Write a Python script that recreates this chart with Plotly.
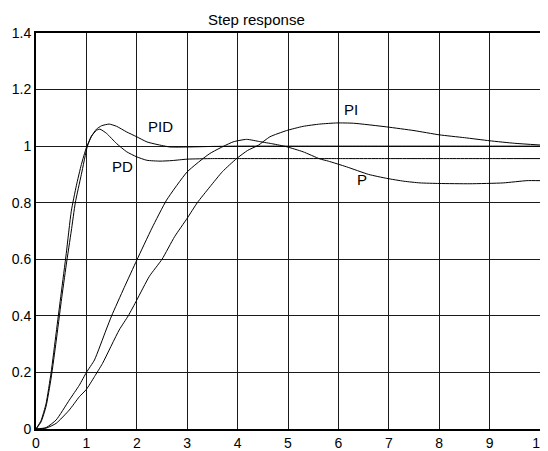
import plotly.graph_objects as go

# Time samples and responses
t_pd = [0, 0.1, 0.2, 0.3, 0.4, 0.5, 0.6, 0.7, 0.8, 0.9, 1.0, 1.1, 1.2, 1.27, 1.4, 1.6, 1.8, 2.0, 2.2, 2.46, 2.7, 3.0, 3.5, 4, 5, 6, 7, 8, 9, 10]
y_pd = [0, 0.03, 0.09, 0.2, 0.34, 0.48, 0.62, 0.77, 0.86, 0.935, 0.995, 1.035, 1.056, 1.06, 1.045, 1.009, 0.98, 0.962, 0.95, 0.947, 0.949, 0.954, 0.956, 0.956, 0.956, 0.956, 0.956, 0.956, 0.956, 0.956]

t_pid = [0, 0.1, 0.2, 0.3, 0.4, 0.5, 0.6, 0.7, 0.78, 0.9, 1.02, 1.1, 1.2, 1.3, 1.45, 1.6, 1.8, 2.0, 2.2, 2.4, 2.66, 3.0, 3.5, 4, 5, 6, 7, 8, 9, 10]
y_pid = [0, 0.025, 0.08, 0.18, 0.31, 0.45, 0.58, 0.7, 0.8, 0.9, 1.0, 1.035, 1.06, 1.072, 1.078, 1.07, 1.05, 1.033, 1.015, 1.006, 0.997, 0.997, 0.999, 1.0, 1.0, 1.0, 1.0, 1.0, 1.0, 1.0]

t_p = [0, 0.2, 0.4, 0.66, 0.86, 1.0, 1.16, 1.39, 1.5, 1.75, 2.0, 2.3, 2.59, 3.0, 3.45, 3.91, 4.18, 4.44, 4.7, 4.97, 5.3, 5.63, 5.8, 6.16, 6.6, 6.96, 7.3, 7.62, 8.0, 8.61, 9.27, 9.74, 10]
y_p = [0, 0.005, 0.032, 0.102, 0.155, 0.2, 0.244, 0.35, 0.4, 0.5, 0.597, 0.71, 0.809, 0.909, 0.974, 1.015, 1.024, 1.016, 1.008, 0.998, 0.98, 0.955, 0.947, 0.927, 0.9, 0.886, 0.876, 0.87, 0.868, 0.867, 0.87, 0.878, 0.878]

t_pi = [0, 0.2, 0.4, 0.66, 0.86, 1.0, 1.16, 1.32, 1.65, 1.83, 2.0, 2.25, 2.5, 2.75, 3.0, 3.2, 3.45, 3.7, 3.98, 4.2, 4.41, 4.64, 4.97, 5.3, 5.63, 5.97, 6.3, 6.96, 7.5, 8.0, 8.5, 9.0, 9.5, 10]
y_pi = [0, 0.003, 0.02, 0.067, 0.114, 0.14, 0.185, 0.232, 0.35, 0.4, 0.456, 0.54, 0.6, 0.68, 0.745, 0.8, 0.856, 0.91, 0.956, 0.985, 1.003, 1.033, 1.055, 1.07, 1.078, 1.082, 1.081, 1.068, 1.055, 1.04, 1.03, 1.019, 1.01, 1.004]

labels = ["PID", "PD", "PI", "P"]
label_x = [2.48, 1.72, 6.25, 6.47]
label_y = [1.071, 0.929, 1.131, 0.883]

x_ticks = list(range(0, 11))
y_ticks = [0, 0.2, 0.4, 0.6, 0.8, 1, 1.2, 1.4]
y_tick_text = ["0", "0.2", "0.4", "0.6", "0.8", "1", "1.2", "1.4"]

FONT = "Liberation Sans, Arial, sans-serif"

fig = go.Figure()
for tx, ty in [(t_pd, y_pd), (t_pid, y_pid), (t_p, y_p), (t_pi, y_pi)]:
    fig.add_trace(go.Scatter(x=tx, y=ty, mode="lines",
                             line=dict(color="black", width=1, shape="spline", smoothing=0.5),
                             showlegend=False, hoverinfo="skip"))

for txt, lx, ly in zip(labels, label_x, label_y):
    fig.add_annotation(x=lx, y=ly, text=txt, showarrow=False,
                       font=dict(family=FONT, size=15, color="black"))

fig.add_annotation(x=0.438, y=1.0, xref="paper", yref="paper", yanchor="bottom", yshift=3,
                   text="Step response", showarrow=False,
                   font=dict(family=FONT, size=15, color="black"))

axis_common = dict(showline=True, mirror=True, linecolor="black", linewidth=2,
                   showgrid=True, gridcolor="#1a1a1a", gridwidth=1, zeroline=False,
                   ticks="", automargin=False,
                   tickfont=dict(family=FONT, size=14, color="black"))

fig.update_xaxes(range=[0, 10], tickvals=x_ticks, ticktext=[str(v) for v in x_ticks], **axis_common)
fig.update_yaxes(range=[0, 1.4], tickvals=y_ticks, ticktext=y_tick_text, **axis_common)

# the page body adds an 8px offset, so the figure is sized to fit inside the window
fig.update_layout(width=540, height=443, margin=dict(l=28, r=8, t=25, b=22),
                  paper_bgcolor="white", plot_bgcolor="white")

fig.write_html("out.html")
